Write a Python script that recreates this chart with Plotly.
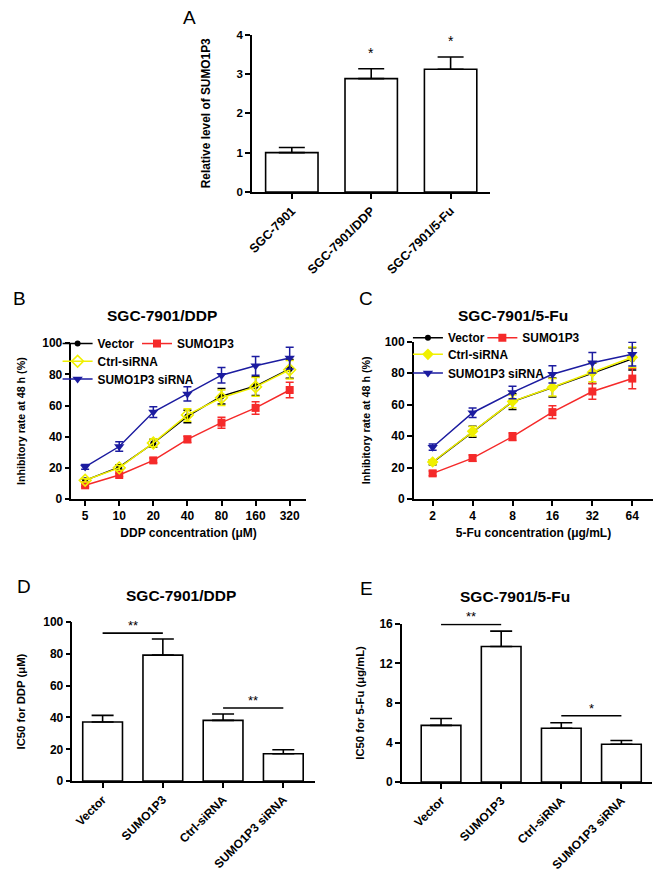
import plotly.graph_objects as go

W, H = 661, 877
FONT = "Liberation Sans, Arial, sans-serif"

# ---------------- data ----------------
# Panel A
a_cats = ["SGC-7901", "SGC-7901/DDP", "SGC-7901/5-Fu"]
a_vals = [1.0, 2.88, 3.12]
a_err = [0.13, 0.25, 0.31]
a_sig = ["", "*", "*"]

# Panel B (DDP)
conc_ddp = ["5", "10", "20", "40", "80", "160", "320"]
ddp_vector = [12.0, 20.5, 35.8, 53.0, 66.0, 72.5, 83.5]
ddp_vector_err = [1.0, 1.5, 2.5, 4.0, 5.0, 6.0, 6.0]
ddp_sumo = [8.8, 15.4, 24.8, 38.3, 49.0, 58.5, 70.0]
ddp_sumo_err = [1.0, 1.0, 1.5, 2.0, 3.5, 4.0, 5.0]
ddp_ctrl = [12.0, 20.0, 36.0, 54.0, 65.0, 72.0, 83.0]
ddp_ctrl_err = [1.0, 1.5, 2.5, 4.0, 5.0, 6.0, 6.0]
ddp_si = [20.6, 33.7, 55.8, 67.5, 79.5, 85.5, 90.5]
ddp_si_err = [1.5, 3.0, 3.5, 4.5, 5.0, 6.0, 7.0]

# Panel C (5-Fu)
conc_fu = ["2", "4", "8", "16", "32", "64"]
fu_vector = [23.3, 42.7, 61.9, 70.8, 79.8, 89.0]
fu_vector_err = [1.5, 3.5, 5.0, 6.0, 6.5, 7.0]
fu_sumo = [16.3, 26.0, 39.6, 55.2, 68.3, 76.5]
fu_sumo_err = [1.5, 2.0, 2.5, 4.0, 5.0, 6.5]
fu_ctrl = [23.5, 43.0, 62.0, 71.0, 80.5, 90.0]
fu_ctrl_err = [1.5, 3.0, 4.0, 5.5, 6.0, 6.5]
fu_si = [32.9, 54.8, 67.7, 79.2, 86.5, 92.0]
fu_si_err = [2.0, 3.0, 4.0, 5.5, 6.5, 7.5]

# Panels D / E
ic_cats = ["Vector", "SUMO1P3", "Ctrl-siRNA", "SUMO1P3 siRNA"]
ddp_ic50 = [37.2, 79.2, 38.2, 17.2]
ddp_ic50_err = [4.1, 10.1, 4.0, 2.5]
fu_ic50 = [5.73, 13.7, 5.44, 3.82]
fu_ic50_err = [0.7, 1.55, 0.56, 0.38]
ddp_sig = [(0, 1, "**", 93), (2, 3, "**", 46)]
fu_sig = [(0, 1, "**", 15.93), (2, 3, "*", 6.7)]

series_names = ["Vector", "SUMO1P3", "Ctrl-siRNA", "SUMO1P3 siRNA"]

# ---------------- helpers ----------------
def dx(p):
    return p / W

def dy(p):
    return 1 - p / H

fig = go.Figure()

def bar_panel(cats, vals, errs, xa, ya, capw):
    fig.add_trace(go.Bar(
        x=cats, y=vals, xaxis=xa, yaxis=ya, width=0.66,
        marker=dict(color="white", line=dict(color="black", width=1.6)),
        error_y=dict(type="data", array=errs, arrayminus=[0] * len(errs),
                     symmetric=False, color="black", thickness=1.6, width=capw),
        showlegend=False, hoverinfo="skip"))

bar_panel(a_cats, a_vals, a_err, "x", "y", 13)
bar_panel(ic_cats, ddp_ic50, ddp_ic50_err, "x4", "y4", 11)
bar_panel(ic_cats, fu_ic50, fu_ic50_err, "x5", "y5", 11)

def line_panel(cats, data, xa, ya, legends, ctrl_open):
    styles = [
        dict(color="black", symbol="circle", size=6),
        dict(color="#f52a2a", symbol="square", size=8),
        dict(color="#f0f000", symbol="diamond-open" if ctrl_open else "diamond", size=9),
        dict(color="#1c1ca0", symbol="triangle-down", size=9),
    ]
    for name, (vals, errs), st, lg in zip(series_names, data, styles, legends):
        marker = dict(color=st["color"], symbol=st["symbol"], size=st["size"])
        if st["symbol"] == "diamond-open":
            marker["line"] = dict(color=st["color"], width=1.6)
        fig.add_trace(go.Scatter(
            x=cats, y=vals, xaxis=xa, yaxis=ya, mode="lines+markers",
            name=name, line=dict(color=st["color"], width=1.5), marker=marker,
            error_y=dict(type="data", array=errs, color=st["color"],
                         thickness=1.5, width=4),
            cliponaxis=False, legend=lg, hoverinfo="skip"))

line_panel(conc_ddp, [(ddp_vector, ddp_vector_err), (ddp_sumo, ddp_sumo_err),
                      (ddp_ctrl, ddp_ctrl_err), (ddp_si, ddp_si_err)],
           "x2", "y2", ["legend", "legend2", "legend3", "legend4"], True)
line_panel(conc_fu, [(fu_vector, fu_vector_err), (fu_sumo, fu_sumo_err),
                     (fu_ctrl, fu_ctrl_err), (fu_si, fu_si_err)],
           "x3", "y3", ["legend5", "legend6", "legend7", "legend8"], False)

# ---------------- axes ----------------
def bfont(size):
    return dict(family=FONT, size=size, color="black", weight="bold")

def xax(domain, rng, anchor, angle=0, title=None, fs=12):
    d = dict(domain=domain, range=rng, anchor=anchor, type="category",
             showline=True, linecolor="black", linewidth=1.6,
             ticks="outside", ticklen=5, tickwidth=1.5, tickcolor="black",
             showgrid=False, zeroline=False, tickfont=bfont(fs),
             tickangle=angle, fixedrange=True)
    if title:
        d["title"] = dict(text=title, font=bfont(12), standoff=6)
    return d

def yax(domain, rng, anchor, dtick, title, tfs, standoff, fs=12):
    return dict(domain=domain, range=rng, anchor=anchor, dtick=dtick,
                showline=True, linecolor="black", linewidth=1.6,
                ticks="outside", ticklen=5, tickwidth=1.5, tickcolor="black",
                showgrid=False, zeroline=False, tickfont=bfont(fs),
                title=dict(text=title, font=bfont(tfs), standoff=standoff),
                fixedrange=True)

fig.update_layout(
    xaxis=xax([dx(249), dx(489)], [-0.5, 2.5], "y", -45, fs=12.5),
    yaxis=yax([dy(188), dy(28)], [0, 4], "x", 1, "Relative level of SUMO1P3", 11.9, 23, fs=11.5),
    xaxis2=xax([dx(67), dx(303)], [-0.4, 6.47], "y2", 0, "DDP concentration (μM)"),
    yaxis2=yax([dy(500), dy(341.7)], [0, 100], "x2", 20, "Inhibitory rate at 48 h (%)", 10.7, 15),
    xaxis3=xax([dx(412), dx(653)], [-0.47, 5.52], "y3", 0, "5-Fu concentration (μg/mL)"),
    yaxis3=yax([dy(500), dy(340)], [0, 100], "x3", 20, "Inhibitory rate at 48 h (%)", 10.7, 12),
    xaxis4=xax([dx(68), dx(312)], [-0.5, 3.52], "y4", -45),
    yaxis4=yax([dy(786.7), dy(625)], [0, 100], "x4", 20, "IC50 for DDP (μM)", 11.3, 15),
    xaxis5=xax([dx(400), dx(652)], [-0.65, 3.51], "y5", -45),
    yaxis5=yax([dy(787.7), dy(626.7)], [0, 16], "x5", 4, "IC50 for 5-Fu (μg/mL)", 11.3, 12),
)

def leg(textx, cy):
    return dict(x=dx(textx - 45), y=dy(cy), xanchor="left", yanchor="middle",
                bgcolor="rgba(0,0,0,0)", font=bfont(11.9), itemwidth=30,
                itemclick=False, itemdoubleclick=False)

fig.update_layout(
    legend=leg(98, 342), legend2=leg(178, 342),
    legend3=leg(98, 360), legend4=leg(98, 378),
    legend5=leg(451, 336), legend6=leg(526, 336),
    legend7=leg(451, 353), legend8=leg(451, 372),
)

# ---------------- annotations ----------------
ann = []
for c, v, e, s in zip(a_cats, a_vals, a_err, a_sig):
    if s:
        ann.append(dict(x=c, y=v + e, xref="x", yref="y", text=s, showarrow=False,
                        yanchor="bottom", yshift=6,
                        font=dict(family=FONT, size=14, color="black")))

shapes = []
def sig_panel(sigs, xa, ya):
    for i, j, txt, lvl in sigs:
        shapes.append(dict(type="line", xref=xa, yref=ya, x0=ic_cats[i], x1=ic_cats[j],
                           y0=lvl, y1=lvl, line=dict(color="black", width=1.6)))
        ann.append(dict(x=(i + j) / 2, y=lvl, xref=xa, yref=ya, text=txt,
                        showarrow=False, yanchor="bottom", yshift=-2,
                        font=dict(family=FONT, size=13, color="black")))

sig_panel(ddp_sig, "x4", "y4")
sig_panel(fu_sig, "x5", "y5")

def paper_text(x, y, text, size, bold):
    f = dict(family=FONT, size=size, color="black")
    if bold:
        f["weight"] = "bold"
    ann.append(dict(x=dx(x), y=dy(y), xref="paper", yref="paper", text=text,
                    showarrow=False, xanchor="center", yanchor="middle", font=f))

paper_text(186, 11, "A", 19, False)
paper_text(15, 296, "B", 19, False)
paper_text(364, 296, "C", 19, False)
paper_text(19, 589, "D", 19, False)
paper_text(364, 591, "E", 19, False)
paper_text(158, 314, "SGC-7901/DDP", 15.5, True)
paper_text(512, 313, "SGC-7901/5-Fu", 15.5, True)
paper_text(177, 598, "SGC-7901/DDP", 15.5, True)
paper_text(514, 599, "SGC-7901/5-Fu", 15.5, True)

fig.update_layout(
    annotations=ann, shapes=shapes,
    width=W, height=H, margin=dict(l=0, r=0, t=0, b=0),
    paper_bgcolor="white", plot_bgcolor="white",
    font=dict(family=FONT, color="black"),
)

fig.write_html("out.html")
